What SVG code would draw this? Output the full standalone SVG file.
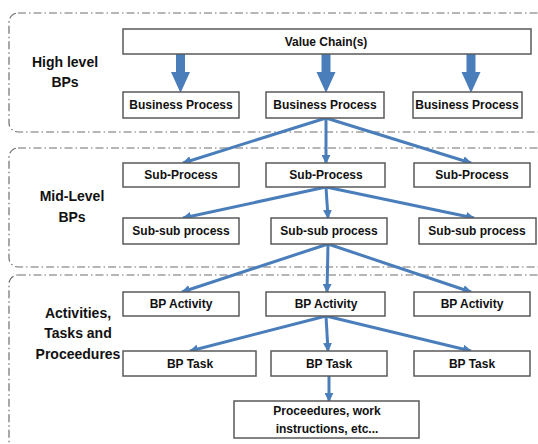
<svg xmlns="http://www.w3.org/2000/svg" width="538" height="444" viewBox="0 0 538 444">
  <defs>
    <marker id="tip" viewBox="0 0 10 10" refX="9" refY="5" markerWidth="3" markerHeight="3" orient="auto" markerUnits="strokeWidth">
      <path d="M0,0 L10,5 L0,10 Z" fill="#4a7ebb"/>
    </marker>
    <path id="bigArrow" d="M-4.5,0 H4.5 V18 H9.5 L0,39 L-9.5,18 H-4.5 Z" fill="#4a7ebb"/>
  </defs>
  <style>
    .band { fill: none; stroke: #6e6e6e; stroke-width: 1.2; stroke-dasharray: 8 3 1.5 3; }
    .box { fill: #ffffff; stroke: #5a5a5a; stroke-width: 1.5; }
    .lbl { font-family: "Liberation Sans", Arial, sans-serif; font-weight: bold; font-size: 12px; fill: #111; text-anchor: middle; dominant-baseline: central; }
    .lvl { font-family: "Liberation Sans", Arial, sans-serif; font-weight: bold; font-size: 14px; fill: #111; text-anchor: middle; dominant-baseline: central; }
    .conn { fill: none; stroke: #4a7ebb; stroke-width: 3; marker-end: url(#tip); }
  </style>
  <rect width="538" height="444" fill="#ffffff"/>

  <!-- level bands -->
  <g id="bands">
    <rect class="band" x="9" y="13" width="545" height="119" rx="9"/>
    <rect class="band" x="9" y="148" width="545" height="119" rx="9"/>
    <rect class="band" x="9" y="275" width="545" height="190" rx="9"/>
    <text class="lvl" x="65" y="62">High level</text>
    <text class="lvl" x="65" y="82">BPs</text>
    <text class="lvl" x="72" y="196">Mid-Level</text>
    <text class="lvl" x="72" y="217">BPs</text>
    <text class="lvl" x="78" y="313">Activities,</text>
    <text class="lvl" x="78" y="333">Tasks and</text>
    <text class="lvl" x="78" y="354">Proceedures</text>
  </g>

  <!-- connectors -->
  <g id="connectors">
    <use href="#bigArrow" x="180.5" y="54"/>
    <use href="#bigArrow" x="326" y="54"/>
    <use href="#bigArrow" x="471" y="54"/>

    <path class="conn" d="M326,118 L183,163"/>
    <path class="conn" d="M326,118 L326,163"/>
    <path class="conn" d="M326,118 L471,163"/>

    <path class="conn" d="M326,187 L183,218"/>
    <path class="conn" d="M326,187 L328,218"/>
    <path class="conn" d="M326,187 L474,218"/>

    <path class="conn" d="M328,244 L182,292"/>
    <path class="conn" d="M328,244 L327,292"/>
    <path class="conn" d="M328,244 L471,292"/>

    <path class="conn" d="M326,316 L190,351"/>
    <path class="conn" d="M326,316 L328,351"/>
    <path class="conn" d="M326,316 L471,351"/>

    <path class="conn" d="M329,376 L329,401"/>
  </g>

  <!-- nodes -->
  <g id="value-chain">
    <rect class="box" x="123" y="29" width="408" height="25"/>
    <text class="lbl" x="326" y="42">Value Chain(s)</text>
  </g>

  <g id="bp-1"><rect class="box" x="123" y="92" width="116" height="26"/><text class="lbl" x="181" y="105">Business Process</text></g>
  <g id="bp-2"><rect class="box" x="266" y="92" width="118" height="26"/><text class="lbl" x="325" y="105">Business Process</text></g>
  <g id="bp-3"><rect class="box" x="413" y="92" width="109" height="26"/><text class="lbl" x="467" y="105">Business Process</text></g>

  <g id="sub-1"><rect class="box" x="123" y="163" width="116" height="24"/><text class="lbl" x="181" y="175">Sub-Process</text></g>
  <g id="sub-2"><rect class="box" x="266" y="163" width="119" height="24"/><text class="lbl" x="326" y="175">Sub-Process</text></g>
  <g id="sub-3"><rect class="box" x="414" y="163" width="116" height="24"/><text class="lbl" x="472" y="175">Sub-Process</text></g>

  <g id="subsub-1"><rect class="box" x="123" y="218" width="116" height="26"/><text class="lbl" x="181" y="231">Sub-sub process</text></g>
  <g id="subsub-2"><rect class="box" x="271" y="218" width="116" height="26"/><text class="lbl" x="329" y="231">Sub-sub process</text></g>
  <g id="subsub-3"><rect class="box" x="419" y="218" width="117" height="26"/><text class="lbl" x="477" y="231">Sub-sub process</text></g>

  <g id="activity-1"><rect class="box" x="123" y="292" width="116" height="24"/><text class="lbl" x="181" y="304">BP Activity</text></g>
  <g id="activity-2"><rect class="box" x="266" y="292" width="119" height="24"/><text class="lbl" x="326" y="304">BP Activity</text></g>
  <g id="activity-3"><rect class="box" x="414" y="292" width="116" height="24"/><text class="lbl" x="472" y="304">BP Activity</text></g>

  <g id="task-1"><rect class="box" x="123" y="351" width="133" height="25"/><text class="lbl" x="190" y="363.5">BP Task</text></g>
  <g id="task-2"><rect class="box" x="271" y="351" width="116" height="25"/><text class="lbl" x="329" y="363.5">BP Task</text></g>
  <g id="task-3"><rect class="box" x="414" y="351" width="116" height="25"/><text class="lbl" x="472" y="363.5">BP Task</text></g>

  <g id="procedures">
    <rect class="box" x="234" y="401" width="185" height="37"/>
    <text class="lbl" x="327" y="411">Proceedures, work</text>
    <text class="lbl" x="327" y="429">instructions, etc...</text>
  </g>
</svg>
